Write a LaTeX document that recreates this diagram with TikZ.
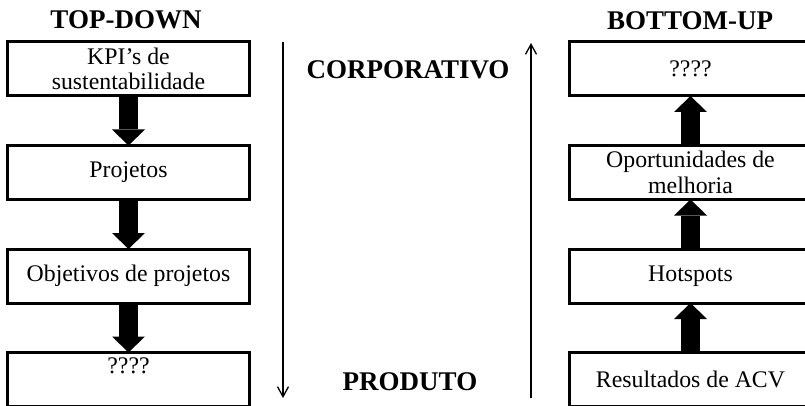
\documentclass[tikz,border=0pt]{standalone}
\usepackage{fontspec}
\setmainfont{Liberation Serif}
\usetikzlibrary{arrows.meta,positioning}
\tikzset{>={Straight Barb[length=10pt,width=11pt]}}
\tikzset{caixa/.style={draw, line width=3pt, outer sep=0pt, minimum width=242pt, minimum height=54pt, align=center, font=\fontsize{23.8}{25.5}\selectfont}}
\tikzset{titulo/.style={font=\fontsize{27}{29}\selectfont\bfseries}}
\tikzset{seta/.style={line width=19pt, -{Triangle[width=33pt,length=16pt,line width=0pt]}}}

\begin{document}
\begin{tikzpicture}[x=1pt,y=-1pt]
            \path[use as bounding box, clip] (0,0) rectangle (805,406);
            % top-down
            \node[titulo] at (126,19.5) (TD) {TOP-DOWN};
            \node[caixa] at (128.5,69) (L1) {KPI's de\\sustentabilidade};
            \node[caixa, below=49.5pt of L1] (L2) {Projetos};
            \node[caixa, below=49.5pt of L2] (L3) {Objetivos de projetos};
            \node[caixa, below=49.5pt of L3] (L4) {};
            \node[font=\fontsize{23.8}{25.5}\selectfont] at ([yshift=-13.5pt]L4.north) (L4txt) {????};
            \draw[seta] (L1) -- (L2);
            \draw[seta] (L2) -- (L3);
            \draw[seta] (L3) -- (L4);
            % niveis
            \coordinate (cimaE) at (283,42);
            \coordinate (baixoE) at (283,398);
            \coordinate (cimaD) at (531,43);
            \coordinate (baixoD) at (531,398);
            \draw[->, line width=1.3pt] (cimaE) -- (baixoE);
            \draw[->, line width=1.3pt] (baixoD) -- (cimaD);
            \node[titulo] at (408,70) (corp) {CORPORATIVO};
            \node[titulo] at (410,382) (prod) {PRODUTO};
            % bottom-up
            \node[titulo] at (690,20.5) (BU) {BOTTOM-UP};
            \node[caixa] at (690.5,69) (R1) {????};
            \node[caixa, below=49.5pt of R1] (R2) {Oportunidades de\\melhoria};
            \node[caixa, below=49.5pt of R2] (R3) {Hotspots};
            \node[caixa, below=49.5pt of R3] (R4) {Resultados de ACV};
            \draw[seta] (R2) -- (R1);
            \draw[seta] (R3) -- (R2);
            \draw[seta] (R4) -- (R3);
          \end{tikzpicture}
\end{document}
